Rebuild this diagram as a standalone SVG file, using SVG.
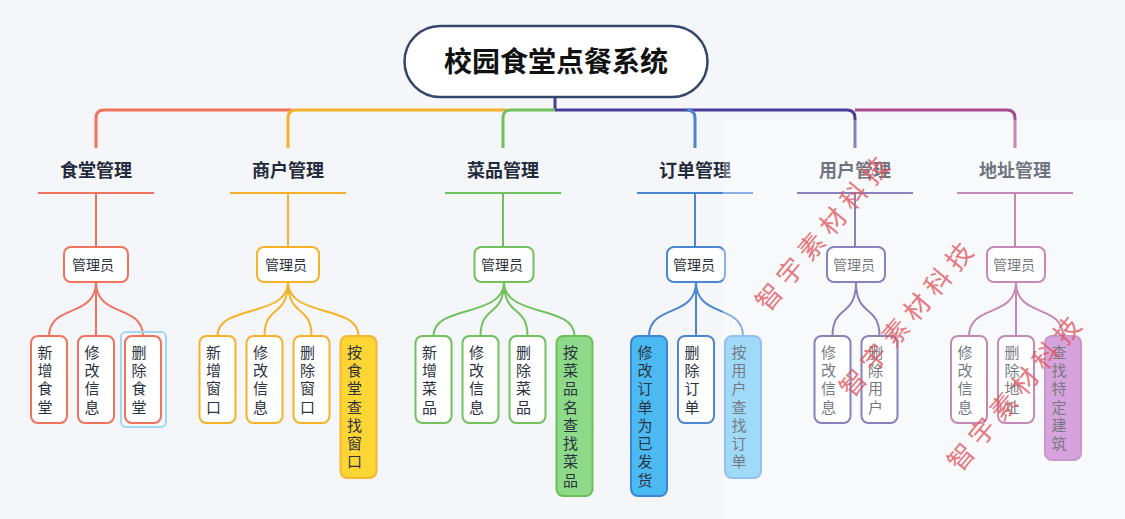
<svg xmlns="http://www.w3.org/2000/svg" width="1125" height="519" viewBox="0 0 1125 519">
<style>
  .ln{fill:none;stroke-width:2;stroke-linecap:round}
  .bus{fill:none;stroke-width:3}
  .ul{fill:none;stroke-width:2}
  .red{stroke:#f0735e}
  .org{stroke:#f6b22b}
  .grn{stroke:#72c15e}
  .blu{stroke:#4a86d2}
  .ind{stroke:#4b3d98}
  .pnk{stroke:#a54a90}
  .box{fill:#ffffff;stroke-width:2}
  .card{stroke-width:2}
  .lbl{font-family:"Noto Sans CJK SC","Noto Sans",sans-serif;font-size:18px;font-weight:700;fill:#1f2a3c;text-anchor:middle}
  .mgr{font-family:"Noto Sans CJK SC","Noto Sans",sans-serif;font-size:14px;fill:#2b3340;text-anchor:middle}
  .ct{font-family:"Noto Sans CJK SC","Noto Sans",sans-serif;font-size:15px;fill:#2b3340;writing-mode:vertical-rl;text-orientation:upright;letter-spacing:3.3px}
  .wm{font-family:"Noto Sans CJK SC","Noto Sans",sans-serif;font-size:26px;fill:#e05a62;opacity:0.8;letter-spacing:7px}
</style>
<rect x="0" y="0" width="1125" height="519" fill="#f5f6f9"/>

<g id="connectors">
  <path class="ind bus" d="M555,97 V110"/>
  <path class="red bus" d="M96,148 V118 Q96,110 104,110 H292"/>
  <path class="org bus" d="M288,148 V118 Q288,110 296,110 H507"/>
  <path class="grn bus" d="M503,148 V118 Q503,110 511,110 H556"/>
  <path class="ind bus" d="M555,110 H847 Q855,110 855,118 V148"/>
  <path class="blu bus" d="M687,110 Q695,110 695,118 V148"/>
  <path class="pnk bus" d="M855,110 H1007 Q1015,110 1015,118 V148"/>

  <path class="red ul" d="M38,193 H154 M96,193 V247"/>
  <path class="org ul" d="M230,193 H346 M288,193 V247"/>
  <path class="grn ul" d="M445,193 H561 M503,193 V247"/>
  <path class="blu ul" d="M637,193 H753 M695,193 V247"/>
  <path class="ind ul" d="M797,193 H913 M855,193 V247"/>
  <path class="pnk ul" d="M957,193 H1073 M1015,193 V247"/>

  <path class="red ln" d="M96,282 C96,318 49,304 49,336 M96,282 V336 M96,282 C96,318 143,304 143,336"/>
  <path class="org ln" d="M288,282 C288,318 217.5,304 217.5,336 M288,282 C288,318 264.5,304 264.5,336 M288,282 C288,318 311.5,304 311.5,336 M288,282 C288,318 358.5,304 358.5,336"/>
  <path class="grn ln" d="M504,282 C504,318 433.5,304 433.5,336 M504,282 C504,318 480.5,304 480.5,336 M504,282 C504,318 527.5,304 527.5,336 M504,282 C504,318 574.5,304 574.5,336"/>
  <path class="blu ln" d="M696,282 C696,318 649,304 649,336 M696,282 V336 M696,282 C696,318 743,304 743,336"/>
  <path class="ind ln" d="M856,282 C856,318 832.5,304 832.5,336 M856,282 C856,318 879.5,304 879.5,336"/>
  <path class="pnk ln" d="M1016,282 C1016,318 969,304 969,336 M1016,282 V336 M1016,282 C1016,318 1063,304 1063,336"/>
</g>

<g id="root">
  <rect x="404.5" y="26" width="303" height="71" rx="35.5" fill="#ffffff" stroke="#34466b" stroke-width="2.5"/>
  <text x="556" y="72" font-family="'Noto Sans CJK SC','Noto Sans',sans-serif" font-size="28" font-weight="700" fill="#111111" text-anchor="middle">校园食堂点餐系统</text>
</g>

<g id="b1">
  <text class="lbl" x="96" y="177">食堂管理</text>
  <rect class="box red" x="64" y="247" width="64" height="35" rx="7"/>
  <text class="mgr" x="93" y="270">管理员</text>
</g>
<g id="b2">
  <text class="lbl" x="288" y="177">商户管理</text>
  <rect class="box org" x="257" y="247" width="62" height="35" rx="7"/>
  <text class="mgr" x="286" y="270">管理员</text>
</g>
<g id="b3">
  <text class="lbl" x="503" y="177">菜品管理</text>
  <rect class="box grn" x="474.5" y="247" width="59" height="35" rx="7"/>
  <text class="mgr" x="502" y="270">管理员</text>
</g>
<g id="b4">
  <text class="lbl" x="695" y="177">订单管理</text>
  <rect class="box blu" x="667" y="247" width="58" height="35" rx="7"/>
  <text class="mgr" x="694" y="270">管理员</text>
</g>
<g id="b5">
  <text class="lbl" x="855" y="177">用户管理</text>
  <rect class="box ind" x="827" y="247" width="58" height="35" rx="7"/>
  <text class="mgr" x="854" y="270">管理员</text>
</g>
<g id="b6">
  <text class="lbl" x="1015" y="177">地址管理</text>
  <rect class="box pnk" x="987" y="247" width="58" height="35" rx="7"/>
  <text class="mgr" x="1014" y="270">管理员</text>
</g>

<!-- red cards -->
<g id="c1a"><rect class="card red" fill="#fff" x="31" y="336" width="36" height="87" rx="7"/>
  <text class="ct" x="45" y="344.5">新增食堂</text></g>
<g id="c1b"><rect class="card red" fill="#fff" x="78" y="336" width="36" height="87" rx="7"/>
  <text class="ct" x="92" y="344.5">修改信息</text></g>
<g id="c1c"><rect x="121" y="332" width="45" height="95" rx="5" fill="none" stroke="#a3d7f2" stroke-width="2"/>
  <rect class="card red" fill="#fff" x="125" y="336" width="36" height="87" rx="7"/>
  <text class="ct" x="139" y="344.5">删除食堂</text></g>

<!-- orange cards -->
<g id="c2a"><rect class="card org" fill="#fff" x="199.5" y="336" width="36" height="87" rx="7"/>
  <text class="ct" x="213.5" y="344.5">新增窗口</text></g>
<g id="c2b"><rect class="card org" fill="#fff" x="246.5" y="336" width="36" height="87" rx="7"/>
  <text class="ct" x="260.5" y="344.5">修改信息</text></g>
<g id="c2c"><rect class="card org" fill="#fff" x="293.5" y="336" width="36" height="87" rx="7"/>
  <text class="ct" x="307.5" y="344.5">删除窗口</text></g>
<g id="c2d"><rect class="card" fill="#fdd535" stroke="#f5b82e" x="340.5" y="336" width="36" height="142" rx="7"/>
  <text class="ct" x="354.5" y="344.5">按食堂查找窗口</text></g>

<!-- green cards -->
<g id="c3a"><rect class="card grn" fill="#fff" x="415.5" y="336" width="36" height="87" rx="7"/>
  <text class="ct" x="429.5" y="344.5">新增菜品</text></g>
<g id="c3b"><rect class="card grn" fill="#fff" x="462.5" y="336" width="36" height="87" rx="7"/>
  <text class="ct" x="476.5" y="344.5">修改信息</text></g>
<g id="c3c"><rect class="card grn" fill="#fff" x="509.5" y="336" width="36" height="87" rx="7"/>
  <text class="ct" x="523.5" y="344.5">删除菜品</text></g>
<g id="c3d"><rect class="card" fill="#8fda89" stroke="#6cbf58" x="556.5" y="336" width="36" height="160" rx="7"/>
  <text class="ct" x="570.5" y="344.5">按菜品名查找菜品</text></g>

<!-- blue cards -->
<g id="c4a"><rect class="card" fill="#4cbaf2" stroke="#3d86d4" x="631" y="336" width="36" height="160" rx="7"/>
  <text class="ct" x="645" y="344.5">修改订单为已发货</text></g>
<g id="c4b"><rect class="card blu" fill="#fff" x="678" y="336" width="36" height="87" rx="7"/>
  <text class="ct" x="692" y="344.5">删除订单</text></g>
<g id="c4c"><rect class="card" fill="#6cc6f5" stroke="#5a9fe6" x="725" y="336" width="36" height="142" rx="7"/>
  <text class="ct" x="739" y="344.5">按用户查找订单</text></g>

<!-- purple cards -->
<g id="c5a"><rect class="card ind" fill="#fff" x="814.5" y="336" width="36" height="87" rx="7"/>
  <text class="ct" x="828.5" y="344.5">修改信息</text></g>
<g id="c5b"><rect class="card ind" fill="#fff" x="861.5" y="336" width="36" height="87" rx="7"/>
  <text class="ct" x="875.5" y="344.5">删除用户</text></g>

<!-- pink cards -->
<g id="c6a"><rect class="card pnk" fill="#fff" x="951" y="336" width="36" height="87" rx="7"/>
  <text class="ct" x="965" y="344.5">修改信息</text></g>
<g id="c6b"><rect class="card pnk" fill="#fff" x="998" y="336" width="36" height="87" rx="7"/>
  <text class="ct" x="1012" y="344.5">删除地址</text></g>
<g id="c6c"><rect class="card" fill="#c072c9" stroke="#ab5fb3" x="1045" y="336" width="36" height="124" rx="7"/>
  <text class="ct" x="1059" y="344.5">查找特定建筑</text></g>

<!-- translucent overlay -->
<rect x="723" y="120" width="402" height="399" fill="#ffffff" opacity="0.35"/>

<!-- watermarks -->
<text class="wm" transform="translate(768,313) rotate(-50)">智宇素材科技</text>
<text class="wm" transform="translate(852,399) rotate(-50)">智宇素材科技</text>
<text class="wm" transform="translate(960,473) rotate(-50)">智宇素材科技</text>
</svg>
